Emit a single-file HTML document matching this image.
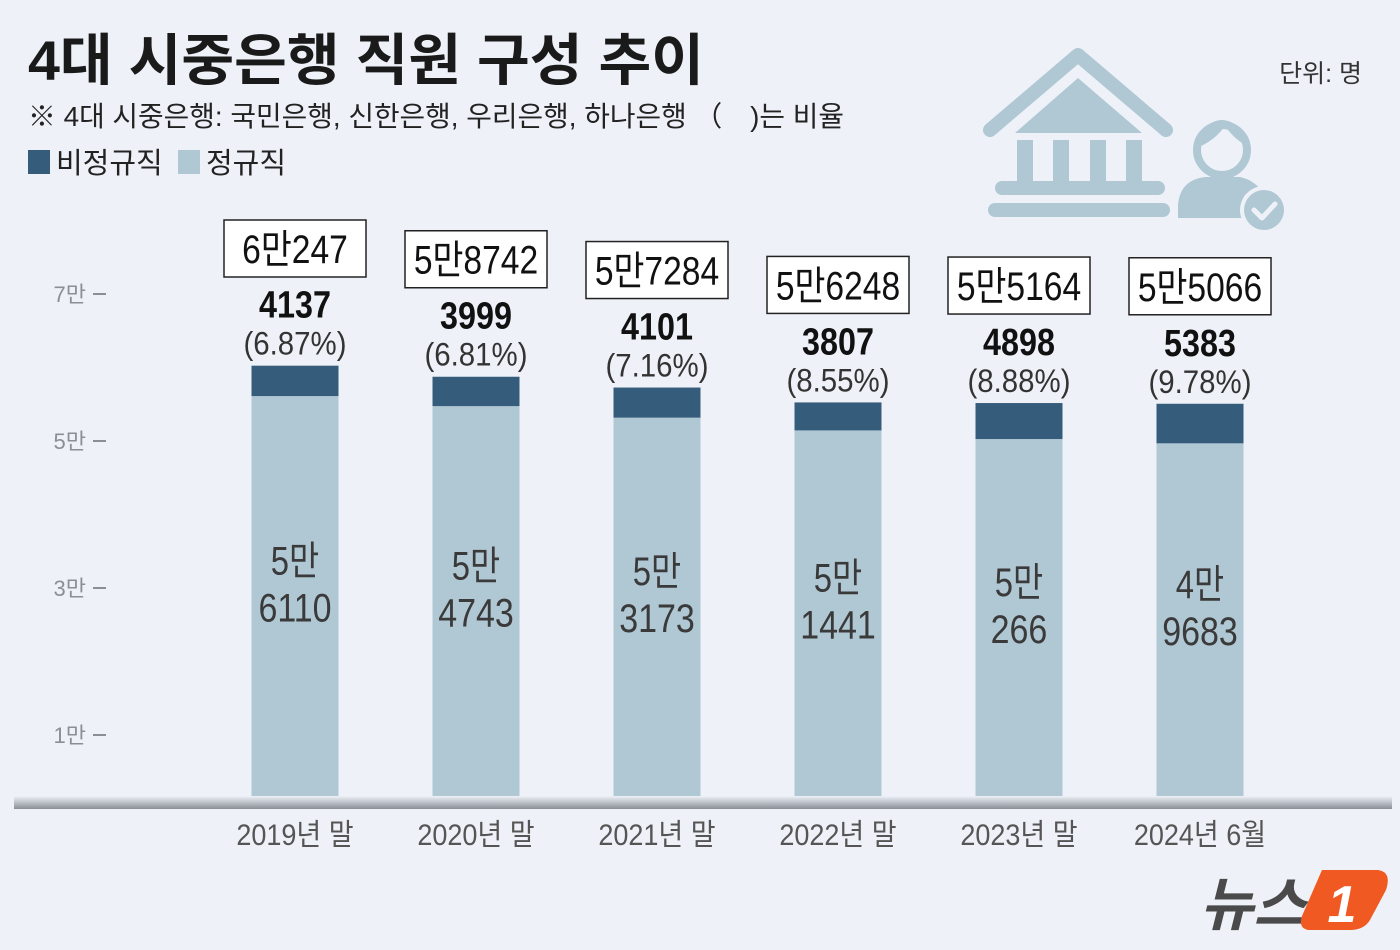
<!DOCTYPE html>
<html><head><meta charset="utf-8"><style>
html,body{margin:0;padding:0;background:#eef2f8;}
svg{display:block;font-family:"Liberation Sans","Noto Sans CJK KR",sans-serif;}
</style></head><body>
<svg id="chart" width="1400" height="950" viewBox="0 0 1400 950" xmlns="http://www.w3.org/2000/svg">
<defs><linearGradient id="base" x1="0" y1="0" x2="0" y2="1"><stop offset="0" stop-color="#eef2f8"/><stop offset="1" stop-color="#8a8f96"/></linearGradient></defs>
<rect width="1400" height="950" fill="#eef2f8"/>
<text x="28" y="80" font-size="56" font-weight="bold" fill="#1a1a1a" textLength="676" lengthAdjust="spacingAndGlyphs">4대 시중은행 직원 구성 추이</text>
<text x="28" y="126" font-size="28" fill="#222" textLength="816" lengthAdjust="spacingAndGlyphs">※ 4대 시중은행: 국민은행, 신한은행, 우리은행, 하나은행 （　)는 비율</text>
<text x="1362" y="82" font-size="25" fill="#333" text-anchor="end">단위: 명</text>
<g>
<rect x="28" y="150" width="22" height="24" fill="#365c7c"/>
<text x="56" y="173" font-size="29" fill="#222">비정규직</text>
<rect x="178" y="150" width="22" height="24" fill="#b0c8d4"/>
<text x="206" y="173" font-size="29" fill="#222">정규직</text>
</g>
<g fill="#b0c8d4">
<path d="M990 130 L1078 55 L1166 130" fill="none" stroke="#b0c8d4" stroke-width="14" stroke-linecap="round" stroke-linejoin="round"/>
<path d="M1015 133 L1078 78 L1142 133 Z"/>
<rect x="1017" y="140" width="16" height="42"/><rect x="1053" y="140" width="16" height="42"/><rect x="1090" y="140" width="16" height="42"/><rect x="1126" y="140" width="16" height="42"/>
<rect x="995" y="181" width="170" height="14" rx="7"/>
<rect x="988" y="203" width="182" height="14" rx="7"/>
<circle cx="1222" cy="150" r="25" fill="none" stroke="#b0c8d4" stroke-width="8"/>
<path d="M1199 147 Q1215 140 1225 126 Q1235 140 1246 145 L1246 135 Q1222 105 1198 135Z"/>
<path d="M1178 218 L1178 205 Q1180 180 1205 177 L1240 177 Q1255 180 1265 195 L1265 218 Z"/>
<circle cx="1264" cy="210" r="24" fill="#eef2f8"/>
<circle cx="1264" cy="210" r="20"/>
<path d="M1254 210 L1262 218 L1275 204" fill="none" stroke="#eef2f8" stroke-width="5" stroke-linecap="round" stroke-linejoin="round"/>
</g>
<g id="axis"></g>
<g id="bars"></g>
<rect x="14" y="796" width="1378" height="13" fill="url(#base)"/>
<g>
<text x="1200" y="925" font-size="58" font-weight="bold" font-style="italic" fill="#4a4a4a">뉴스</text>
<path d="M1322 870 L1378 870 Q1392 872 1386 890 L1370 920 Q1364 930 1350 930 L1308 930 Q1298 928 1302 916 Z" fill="#f05a22"/>
<text x="1342" y="922" font-size="52" font-weight="bold" font-style="italic" fill="#fff" text-anchor="middle">1</text>
</g>
</svg>
<script>
const categories=["2019년 말","2020년 말","2021년 말","2022년 말","2023년 말","2024년 6월"];
const regularValues=[56110,54743,53173,51441,50266,49683];
const nonregularValues=[4137,3999,4101,3807,4898,5383];
const totalLabels=["6만247","5만8742","5만7284","5만6248","5만5164","5만5066"];
const pctLabels=["(6.87%)","(6.81%)","(7.16%)","(8.55%)","(8.88%)","(9.78%)"];
const regTop=["5만","5만","5만","5만","5만","4만"];
const regBottom=["6110","4743","3173","1441","266","9683"];
const yTicks=[10000,30000,50000,70000];
const yTickLabels=["1만","3만","5만","7만"];
const NS="http://www.w3.org/2000/svg";
const y0=808.5, pxPer=73.5/10000;
function yScale(v){return y0-v*pxPer;}
function xScale(i){return 295+i*181;}
function mk(tag,attrs,parent,txt){const e=document.createElementNS(NS,tag);for(const k in attrs)e.setAttribute(k,attrs[k]);if(txt!==undefined)e.textContent=txt;parent.appendChild(e);return e;}
function squeeze(e,f){const l=e.getComputedTextLength();e.setAttribute('textLength',(l*f).toFixed(1));e.setAttribute('lengthAdjust','spacingAndGlyphs');}
const ax=document.getElementById('axis'), bg=document.getElementById('bars');
yTicks.forEach((t,i)=>{
 const y=yScale(t);
 const tx=mk('text',{x:86,y:y+8,'font-size':22,fill:'#8a8f96','text-anchor':'end'},ax,yTickLabels[i]);
 
 
 const ln=mk('line',{x1:93,x2:106,y1:y,y2:y,stroke:'#8a8f96','stroke-width':2},ax);
 
 
});
categories.forEach((c,i)=>{
 const cx=xScale(i), w=87;
 const rTop=yScale(regularValues[i]), tTop=yScale(regularValues[i]+nonregularValues[i]);
 const r=mk('rect',{x:cx-w/2,y:rTop,width:w,height:y0-rTop,fill:'#b0c8d4'},bg);
 
 
 const n=mk('rect',{x:cx-w/2,y:tTop,width:w,height:rTop-tTop,fill:'#365c7c'},bg);
 
 
 const mid=(rTop+y0)/2;
 const t1=mk('text',{x:cx,y:mid-28,'font-size':40,fill:'#3a3a3a','text-anchor':'middle'},bg,regTop[i]);
 
 
 squeeze(t1,0.82);
 const t2=mk('text',{x:cx,y:mid+19,'font-size':40,fill:'#3a3a3a','text-anchor':'middle'},bg,regBottom[i]);
 
 
 squeeze(t2,0.85);
 const p=mk('text',{x:cx,y:tTop-11,'font-size':32,fill:'#333','text-anchor':'middle'},bg,pctLabels[i]);
 
 
 squeeze(p,0.92);
 const nv=mk('text',{x:cx,y:tTop-48,'font-size':38,'font-weight':'bold',fill:'#111','text-anchor':'middle'},bg,nonregularValues[i]);
 
 
 squeeze(nv,0.85);
 const by=Math.max(220,tTop-146);
 const bx=mk('rect',{x:cx-71,y:by,width:142,height:57,fill:'#fff',stroke:'#222','stroke-width':1.5},bg);
 
 
 const tt=mk('text',{x:cx,y:by+43,'font-size':40,fill:'#111','text-anchor':'middle'},bg,totalLabels[i]);
 
 
 squeeze(tt,0.84);
 const xl=mk('text',{x:cx,y:845,'font-size':30,fill:'#555','text-anchor':'middle'},bg,c);
 
 
 squeeze(xl,0.9);
});
</script>
</body></html>
